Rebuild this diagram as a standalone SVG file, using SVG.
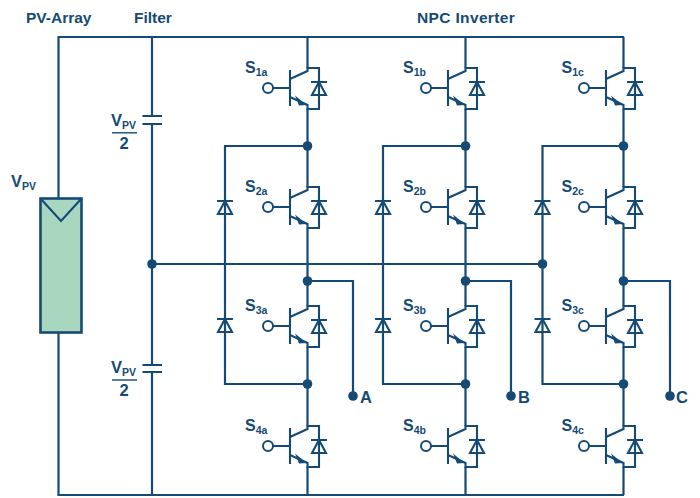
<svg xmlns="http://www.w3.org/2000/svg" width="700" height="498" viewBox="0 0 700 498">
<style>
.w{fill:none;stroke:#154a75;stroke-width:2.2;stroke-linejoin:miter}
.t{fill:none;stroke:#154a75;stroke-width:2.1;stroke-linejoin:miter}
.r{fill:none;stroke:#154a75;stroke-width:1.4}
.d{fill:#154a75}
text{font-family:"Liberation Sans",Arial,sans-serif;font-weight:700;fill:#154a75}
.h{font-size:15.5px}
.m{font-size:16.5px}
.l{font-size:16px}
.s{font-size:10.5px}
</style>
<defs>
<g id="igbt">
<path class="t" d="M-17.5,-18V18M-34.5,0H-17.5M-17.5,-9L0,-17V-20H11.5V21H0V17L-17.5,9"/>
<path class="t" d="M3.5,-6H19.5M11.5,-6L4.5,7H18.5Z"/>
<polygon class="d" points="-1,17 -12.5,7.5 -8.5,17.5"/>
<circle cx="-39.5" cy="0" r="5" fill="#fff" stroke="#154a75" stroke-width="2"/>
</g>
<g id="clampdiode">
<path class="t" d="M-8,0H8M0,0L-7,13H7Z"/>
</g>
</defs>

<g id="connectors">
<path class="w" d="M58.5,198V37H624M152,37V116M152,124V365M152,372V495M58.5,333V495H624"/>
<path class="w" d="M152,264H543"/>
<path class="w" d="M307.5,37V68M307.5,109V187M307.5,228V306M307.5,347V426M307.5,467V495"/>
<path class="w" d="M465.5,37V68M465.5,109V187M465.5,228V306M465.5,347V426M465.5,467V495"/>
<path class="w" d="M623.5,37V68M623.5,109V187M623.5,228V306M623.5,347V426M623.5,467V495"/>
<path class="w" d="M307.5,146H225V384H307.5M465.5,146H383V384H465.5M623.5,146H542.5V384H623.5"/>
<path class="w" d="M307.5,281H353V396M465.5,281H511V396M623.5,281H670V396"/>
<g class="d">
<circle cx="152" cy="264" r="4.8"/><circle cx="542.5" cy="264" r="4.8"/>
<circle cx="307.5" cy="146" r="4.8"/><circle cx="465.5" cy="146" r="4.8"/><circle cx="623.5" cy="146" r="4.8"/>
<circle cx="307.5" cy="281" r="4.8"/><circle cx="465.5" cy="281" r="4.8"/><circle cx="623.5" cy="281" r="4.8"/>
<circle cx="307.5" cy="384" r="4.8"/><circle cx="465.5" cy="384" r="4.8"/><circle cx="623.5" cy="384" r="4.8"/>
<circle cx="353" cy="396" r="4.8"/><circle cx="511" cy="396" r="4.8"/><circle cx="670" cy="396" r="4.8"/>
</g>
</g>

<g id="titles">
<text class="h" x="26" y="23">PV-Array</text>
<text class="h" x="134" y="23">Filter</text>
<text class="h" x="417" y="23" letter-spacing="0.35">NPC Inverter</text>
</g>

<g id="pv-array">
<rect x="40.5" y="198.5" width="41" height="134" fill="#a9d6bf" stroke="#154a75" stroke-width="2.6"/>
<path class="t" d="M40.5,198.5L61,221L81.5,198.5"/>
<text class="m" x="11" y="187">V<tspan class="s" dy="3">PV</tspan></text>
</g>

<g id="cap-upper">
<path class="w" d="M142.5,116H162M142.5,124H162"/>
<text class="m" x="111" y="126">V<tspan class="s" dy="3">PV</tspan></text>
<path class="r" d="M112,132.8H137"/>
<text class="m" x="124" y="149" text-anchor="middle">2</text>
</g>
<g id="cap-lower">
<path class="w" d="M142.5,365H162M142.5,372H162"/>
<text class="m" x="111" y="373">V<tspan class="s" dy="3">PV</tspan></text>
<path class="r" d="M112,380H137"/>
<text class="m" x="124" y="396" text-anchor="middle">2</text>
</g>

<g id="S1a"><use href="#igbt" x="307.5" y="88"/><text class="l" x="245" y="73">S<tspan class="s" dy="3">1a</tspan></text></g>
<g id="S2a"><use href="#igbt" x="307.5" y="207"/><text class="l" x="245" y="192">S<tspan class="s" dy="3">2a</tspan></text></g>
<g id="S3a"><use href="#igbt" x="307.5" y="326"/><text class="l" x="245" y="311">S<tspan class="s" dy="3">3a</tspan></text></g>
<g id="S4a"><use href="#igbt" x="307.5" y="446"/><text class="l" x="245" y="431">S<tspan class="s" dy="3">4a</tspan></text></g>
<g id="S1b"><use href="#igbt" x="465.5" y="88"/><text class="l" x="403" y="73">S<tspan class="s" dy="3">1b</tspan></text></g>
<g id="S2b"><use href="#igbt" x="465.5" y="207"/><text class="l" x="403" y="192">S<tspan class="s" dy="3">2b</tspan></text></g>
<g id="S3b"><use href="#igbt" x="465.5" y="326"/><text class="l" x="403" y="311">S<tspan class="s" dy="3">3b</tspan></text></g>
<g id="S4b"><use href="#igbt" x="465.5" y="446"/><text class="l" x="403" y="431">S<tspan class="s" dy="3">4b</tspan></text></g>
<g id="S1c"><use href="#igbt" x="623.5" y="88"/><text class="l" x="561.5" y="73">S<tspan class="s" dy="3">1c</tspan></text></g>
<g id="S2c"><use href="#igbt" x="623.5" y="207"/><text class="l" x="561.5" y="192">S<tspan class="s" dy="3">2c</tspan></text></g>
<g id="S3c"><use href="#igbt" x="623.5" y="326"/><text class="l" x="561.5" y="311">S<tspan class="s" dy="3">3c</tspan></text></g>
<g id="S4c"><use href="#igbt" x="623.5" y="446"/><text class="l" x="561.5" y="431">S<tspan class="s" dy="3">4c</tspan></text></g>

<g id="clamp-a-upper"><use href="#clampdiode" x="225" y="201"/></g>
<g id="clamp-a-lower"><use href="#clampdiode" x="225" y="319"/></g>
<g id="clamp-b-upper"><use href="#clampdiode" x="383" y="201"/></g>
<g id="clamp-b-lower"><use href="#clampdiode" x="383" y="319"/></g>
<g id="clamp-c-upper"><use href="#clampdiode" x="542.5" y="201"/></g>
<g id="clamp-c-lower"><use href="#clampdiode" x="542.5" y="319"/></g>

<g id="output-labels">
<text class="m" x="360" y="403">A</text>
<text class="m" x="518" y="403">B</text>
<text class="m" x="676" y="403">C</text>
</g>
</svg>
